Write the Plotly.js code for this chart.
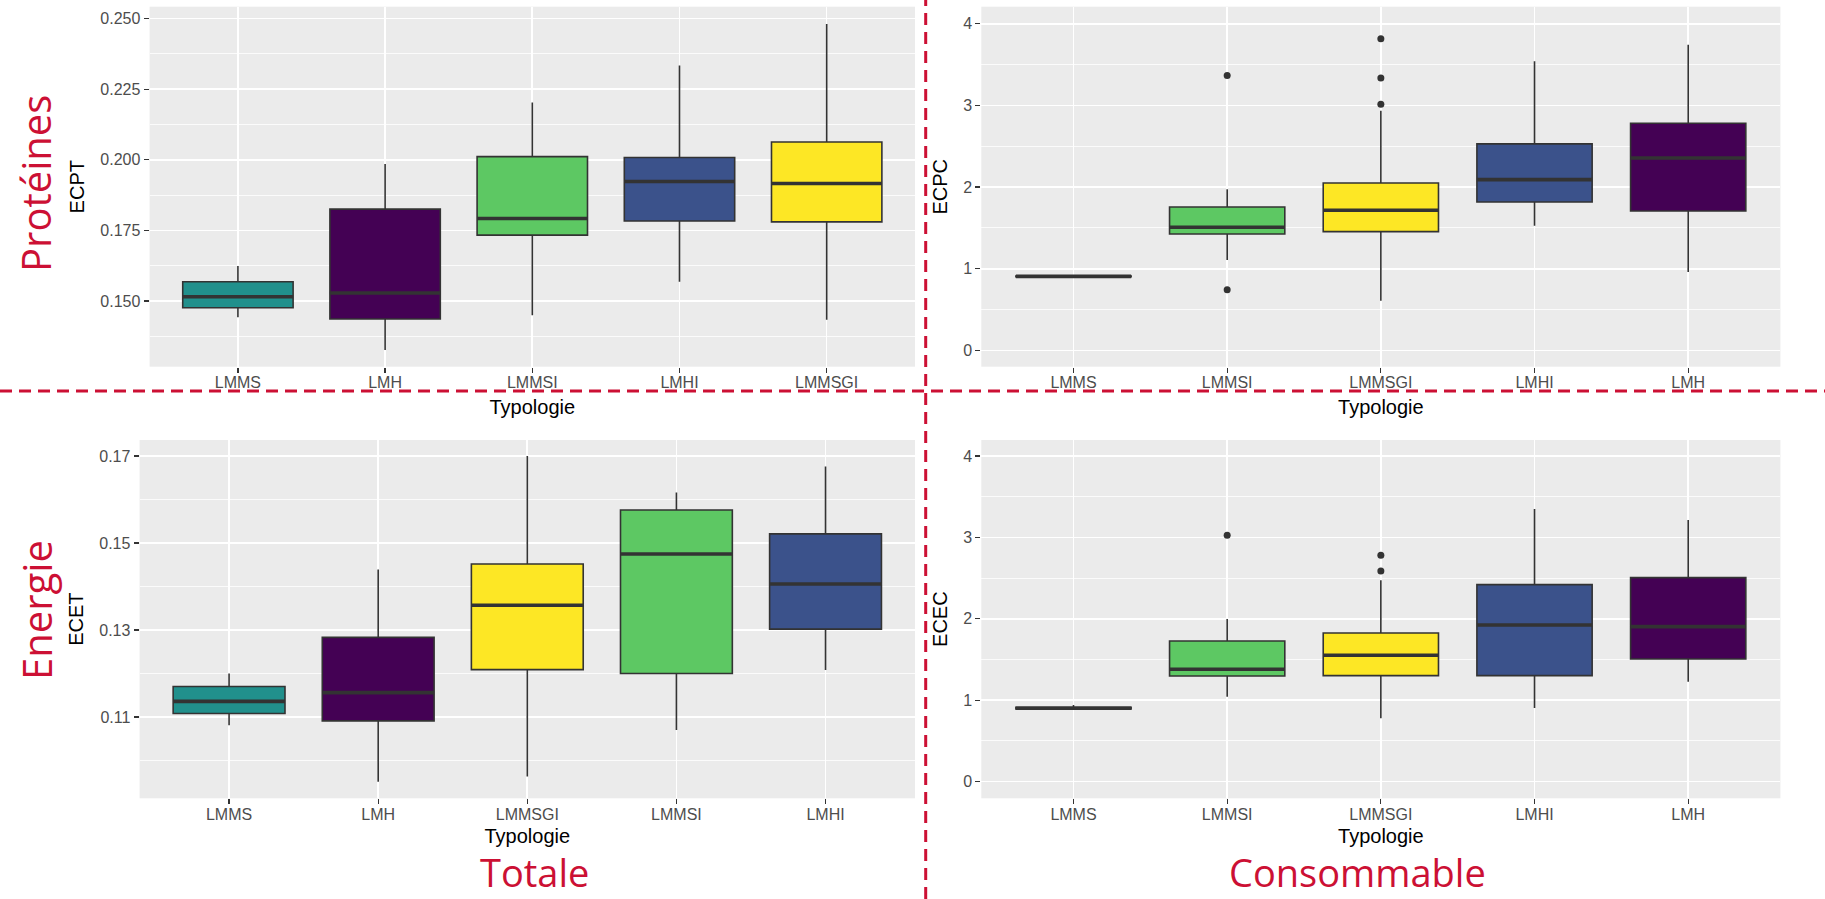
<!DOCTYPE html>
<html><head><meta charset="utf-8">
<script src="https://cdn.plot.ly/plotly-3.0.1.min.js"></script>
<style>html,body{margin:0;padding:0;background:#fff;} #chart{width:1825px;height:899px;}</style>
</head><body><div id="chart"></div>
<script>
// ---------- DATA ----------
// Panel 1: Protéines – Totale (ECPT)
const ecptCats = ['LMMS','LMH','LMMSI','LMHI','LMMSGI'];
const ecptLow  = [0.1442,0.1326,0.1449,0.1568,0.1433];
const ecptQ1   = [0.1476,0.1436,0.1733,0.1783,0.1780];
const ecptMed  = [0.1515,0.1528,0.1792,0.1923,0.1916];
const ecptQ3   = [0.1568,0.1825,0.2011,0.2008,0.2063];
const ecptHigh = [0.1624,0.1985,0.2203,0.2334,0.2481];
const ecptOutX = [];
const ecptOutY = [];

// Panel 2: Protéines – Consommable (ECPC)
const ecpcCats = ['LMMS','LMMSI','LMMSGI','LMHI','LMH'];
const ecpcLow  = [0.903,1.107,0.609,1.528,0.960];
const ecpcQ1   = [0.903,1.426,1.455,1.818,1.708];
const ecpcMed  = [0.907,1.508,1.716,2.092,2.357];
const ecpcQ3   = [0.911,1.757,2.051,2.529,2.782];
const ecpcHigh = [0.911,1.973,2.934,3.542,3.743];
const ecpcOutX = ['LMMSI','LMMSI','LMMSGI','LMMSGI','LMMSGI'];
const ecpcOutY = [3.367,0.744,3.816,3.338,3.015];

// Panel 3: Energie – Totale (ECET)
const ecetCats = ['LMMS','LMH','LMMSGI','LMMSI','LMHI'];
const ecetLow  = [0.1081,0.0951,0.0963,0.1070,0.1208];
const ecetQ1   = [0.1108,0.1091,0.1209,0.1200,0.1302];
const ecetMed  = [0.1136,0.1156,0.1357,0.1475,0.1406];
const ecetQ3   = [0.1170,0.1283,0.1452,0.1576,0.1521];
const ecetHigh = [0.1200,0.1439,0.1700,0.1616,0.1676];
const ecetOutX = [];
const ecetOutY = [];

// Panel 4: Energie – Consommable (ECEC)
const ececCats = ['LMMS','LMMSI','LMMSGI','LMHI','LMH'];
const ececLow  = [0.893,1.044,0.778,0.905,1.228];
const ececQ1   = [0.893,1.298,1.302,1.302,1.507];
const ececMed  = [0.902,1.380,1.552,1.924,1.904];
const ececQ3   = [0.912,1.728,1.826,2.420,2.506];
const ececHigh = [0.940,1.998,2.473,3.349,3.214];
const ececOutX = ['LMMSI','LMMSGI','LMMSGI'];
const ececOutY = [3.026,2.780,2.588];

// ---------- STYLE ----------
const typeColors = {LMMS:'#21908C', LMH:'#440154', LMMSI:'#5DC863', LMHI:'#3B528B', LMMSGI:'#FDE725'};
const RED = '#CC1034';
const INK = '#333333';
const BOXW = 0.75;

const traces = [];
const shapes = [];

function panel(cats, low, q1, med, q3, high, outX, outY, xa, ya) {
  cats.forEach((c, i) => {
    traces.push({
      type:'box', x:[c], q1:[q1[i]], median:[med[i]], q3:[q3[i]],
      lowerfence:[low[i]], upperfence:[high[i]],
      xaxis:xa, yaxis:ya, width:BOXW, fillcolor:typeColors[c],
      line:{color:INK, width:1.6}, whiskerwidth:0, boxpoints:false,
      hoverinfo:'skip', showlegend:false, name:c
    });
    shapes.push({
      type:'line', xref:xa, yref:ya, x0:i - BOXW/2, x1:i + BOXW/2,
      y0:med[i], y1:med[i], line:{color:INK, width:3.6}, layer:'above'
    });
  });
  traces.push({
    type:'scatter', mode:'markers', x:outX, y:outY, xaxis:xa, yaxis:ya,
    marker:{color:INK, size:7}, showlegend:false, hoverinfo:'skip'
  });
}

panel(ecptCats, ecptLow, ecptQ1, ecptMed, ecptQ3, ecptHigh, ecptOutX, ecptOutY, 'x', 'y');
panel(ecpcCats, ecpcLow, ecpcQ1, ecpcMed, ecpcQ3, ecpcHigh, ecpcOutX, ecpcOutY, 'x2', 'y2');
panel(ecetCats, ecetLow, ecetQ1, ecetMed, ecetQ3, ecetHigh, ecetOutX, ecetOutY, 'x3', 'y3');
panel(ececCats, ececLow, ececQ1, ececMed, ececQ3, ececHigh, ececOutX, ececOutY, 'x4', 'y4');

const tickFont = {family:'Liberation Sans, Arial, sans-serif', size:16, color:'#4D4D4D'};
const titleFont = {family:'Liberation Sans, Arial, sans-serif', size:20, color:'#000000'};

function xAxis(domain, anchor, cats, standoff) {
  return {
    domain:domain, anchor:anchor, type:'category', categoryorder:'array', categoryarray:cats,
    range:[-0.6, 4.6], showgrid:true, gridcolor:'#FFFFFF', gridwidth:1.6,
    zeroline:false, showline:false, ticks:'outside', ticklen:5, tickwidth:1.3, tickcolor:INK,
    ticklabelstandoff:-4,
    tickfont:tickFont, title:{text:'Typologie', font:titleFont, standoff:standoff}, fixedrange:true
  };
}
function yAxis(domain, anchor, range, tick0, dtick, fmt, title) {
  return {
    domain:domain, anchor:anchor, range:range, tick0:tick0, dtick:dtick, tickformat:fmt,
    showgrid:true, gridcolor:'#FFFFFF', gridwidth:1.6,
    minor:{dtick:dtick/2, showgrid:true, gridcolor:'#FFFFFF', gridwidth:0.8},
    zeroline:false, showline:false, ticks:'outside', ticklen:5, tickwidth:1.3, tickcolor:INK,
    tickfont:tickFont, title:{text:title, font:titleFont, standoff:10}, fixedrange:true
  };
}

const W = 1825, H = 899;
const px = v => v / W;
const py = v => 1 - v / H;

const topY = [py(366.7), py(6.7)];
const botY = [py(798.3), py(440)];

const layout = {
  width:W, height:H, autosize:false,
  margin:{l:0, r:0, t:0, b:0, pad:0},
  paper_bgcolor:'#FFFFFF', plot_bgcolor:'#EBEBEB',
  boxmode:'overlay', showlegend:false,
  xaxis:  xAxis([px(149.6), px(915)], 'y', ecptCats, 10),
  yaxis:  yAxis(topY, 'x', [0.1267, 0.2542], 0.15, 0.025, '.3f', 'ECPT'),
  xaxis2: xAxis([px(981.3), px(1780.4)], 'y2', ecpcCats, 10),
  yaxis2: yAxis(topY, 'x2', [-0.2, 4.21], 0, 1, 'd', 'ECPC'),
  xaxis3: xAxis([px(139.6), px(915)], 'y3', ecetCats, 7),
  yaxis3: yAxis(botY, 'x3', [0.0913, 0.1737], 0.11, 0.02, '.2f', 'ECET'),
  xaxis4: xAxis([px(981.3), px(1780.4)], 'y4', ececCats, 7),
  yaxis4: yAxis(botY, 'x4', [-0.205, 4.197], 0, 1, 'd', 'ECEC'),
  shapes: shapes.concat([
    {type:'line', xref:'paper', yref:'paper', x0:0, x1:1, y0:py(391), y1:py(391),
     line:{color:RED, width:3, dash:'12px,7px'}, layer:'above'},
    {type:'line', xref:'paper', yref:'paper', x0:px(925.7), x1:px(925.7), y0:0, y1:1,
     line:{color:RED, width:3, dash:'12px,7px'}, layer:'above'}
  ]),
  annotations: [
    {text:'Protéines', xref:'paper', yref:'paper', x:px(36), y:py(184), textangle:-90,
     showarrow:false, xanchor:'center', yanchor:'middle', font:{family:'Open Sans', size:40, color:RED}},
    {text:'Energie', xref:'paper', yref:'paper', x:px(36), y:py(610), textangle:-90,
     showarrow:false, xanchor:'center', yanchor:'middle', font:{family:'Open Sans', size:40, color:RED}},
    {text:'Totale', xref:'paper', yref:'paper', x:px(534.7), y:0, textangle:0,
     showarrow:false, xanchor:'center', yanchor:'bottom', borderpad:0, font:{family:'Open Sans', size:38, color:RED}},
    {text:'Consommable', xref:'paper', yref:'paper', x:px(1357), y:0, textangle:0,
     showarrow:false, xanchor:'center', yanchor:'bottom', borderpad:0, font:{family:'Open Sans', size:38, color:RED}}
  ]
};

Plotly.newPlot('chart', traces, layout, {staticPlot:true, displayModeBar:false});
</script>
</body></html>
